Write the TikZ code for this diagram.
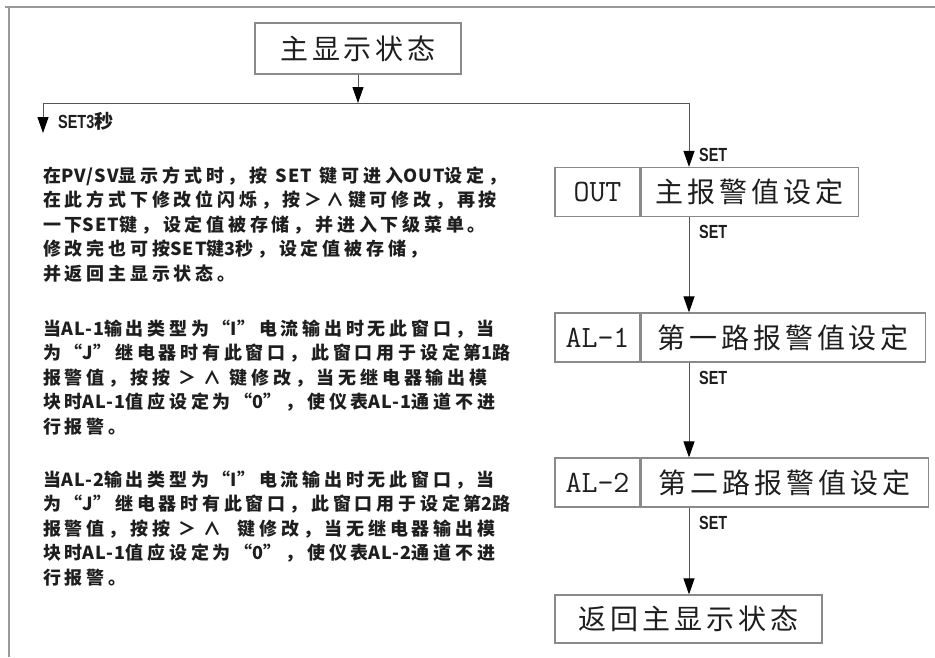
\documentclass[tikz,border=0pt]{standalone}
\usepackage{fontspec}
\usetikzlibrary{arrows.meta}
\newfontfamily\cjk{Noto Sans CJK SC}
\newfontfamily\cjkbox{Noto Sans CJK SC}[LetterSpace=14]
\newfontfamily\cjkpar{Noto Sans CJK SC}[LetterSpace=21]
\newfontfamily\latp{Noto Sans CJK SC}[LetterSpace=6]
\newfontfamily\labf{Liberation Sans}[FakeStretch=0.76]
\newcommand\lt[1]{{\latp\bfseries #1}}
\definecolor{framegray}{HTML}{9A9A9A}
\definecolor{boxgray}{HTML}{8A8A8A}
\definecolor{linegray}{HTML}{555555}
\definecolor{ink}{HTML}{1E1E1E}
\begin{document}
\begin{tikzpicture}[x=1pt,y=-1pt,
  box/.style={draw=boxgray, line width=1.2pt, inner sep=0pt, text=ink,
    font=\cjkbox\fontsize{28}{30}\selectfont},
  cellL/.style={box, minimum width=85pt, minimum height=49pt,
    font=\ttfamily\fontsize{31}{33}\selectfont},
  cellR/.style={box, minimum height=49pt},
  lab/.style={anchor=west, inner sep=0pt, text=ink,
    font=\labf\bfseries\fontsize{19}{20}\selectfont},
  para/.style={anchor=base west, inner sep=0pt, text=ink,
    font=\cjkpar\bfseries\fontsize{18}{20}\selectfont},
  conn/.style={draw=linegray, line width=1pt},
  arr/.style={conn, -{Triangle[length=16pt,width=11pt,color=black]}}]
\useasboundingbox[fill=white] (0,0) rectangle (935,657);
% frame
\draw[framegray, line width=1.6pt] (5,7) -- (935,7);
\draw[framegray, line width=1.6pt] (9,7) -- (9,657);

% nodes
\node[box, minimum width=206pt, minimum height=51pt] (main) at (358,48.5) {主显示状态};

\node[cellL] (outL) at (597.5,192) {OUT};
\node[cellR, minimum width=217pt, anchor=west] (outR) at (outL.east) {主报警值设定};

\node[cellL] (al1L) at (597.5,337.5) {AL-1};
\node[cellR, minimum width=284pt, anchor=west] (al1R) at (al1L.east) {第一路报警值设定};

\node[cellL] (al2L) at (597.5,482.5) {AL-2};
\node[cellR, minimum width=287pt, anchor=west] (al2R) at (al2L.east) {第二路报警值设定};

\node[box, minimum width=267pt, minimum height=48pt] (ret) at (688.5,619) {返回主显示状态};

% junctions
\coordinate (jL) at (43,103);
\coordinate (jR) at (689,103);
\coordinate (lend) at (43,133);
\coordinate (spine) at (689,0);

% connectors
\draw[arr] (main.south) -- (main.south |- jL);
\draw[arr] (jR) -- (jL) -- (lend);
\draw[arr] (jR) -- (outR.north -| spine);
\draw[arr] (outR.south -| spine) -- (al1R.north -| spine);
\draw[arr] (al1R.south -| spine) -- (al2R.north -| spine);
\draw[arr] (al2R.south -| spine) -- (ret.north -| spine);

% labels
\node[lab] (l0) at (58,121) {SET3{\cjk\bfseries 秒}};
\node[lab] (l1) at (699,155) {SET};
\node[lab] (l2) at (699,232) {SET};
\node[lab] (l3) at (699,378) {SET};
\node[lab] (l4) at (699,523) {SET};

% paragraphs
\foreach \t [count=\i] in {
  {在\lt{PV/SV}显示方式时，按 \lt{SET} 键可进入\lt{OUT}设定，},
  {在此方式下修改位闪烁，按＞∧键可修改，再按},
  {一下\lt{SET}键，设定值被存储，并进入下级菜单。},
  {修改完也可按\lt{SET}键\lt{3}秒，设定值被存储，},
  {并返回主显示状态。}}
  \node[para] (pa\i) at (43,{182+24.5*(\i-1)}) {\t};

\foreach \t [count=\i] in {
  {当\lt{AL-1}输出类型为“\lt{I}”电流输出时无此窗口，当},
  {为“\lt{J}”继电器时有此窗口，此窗口用于设定第\lt{1}路},
  {报警值，按按 ＞ ∧ 键修改，当无继电器输出模},
  {块时\lt{AL-1}值应设定为“\lt{0}”，使仪表\lt{AL-1}通道不进},
  {行报警。}}
  \node[para] (pb\i) at (43,{335+24.5*(\i-1)}) {\t};

\foreach \t [count=\i] in {
  {当\lt{AL-2}输出类型为“\lt{I}”电流输出时无此窗口，当},
  {为“\lt{J}”继电器时有此窗口，此窗口用于设定第\lt{2}路},
  {报警值，按按 ＞ ∧ \ 键修改，当无继电器输出模},
  {块时\lt{AL-1}值应设定为“\lt{0}”，使仪表\lt{AL-2}通道不进},
  {行报警。}}
  \node[para] (pc\i) at (43,{486+24.5*(\i-1)}) {\t};
\end{tikzpicture}
\end{document}
